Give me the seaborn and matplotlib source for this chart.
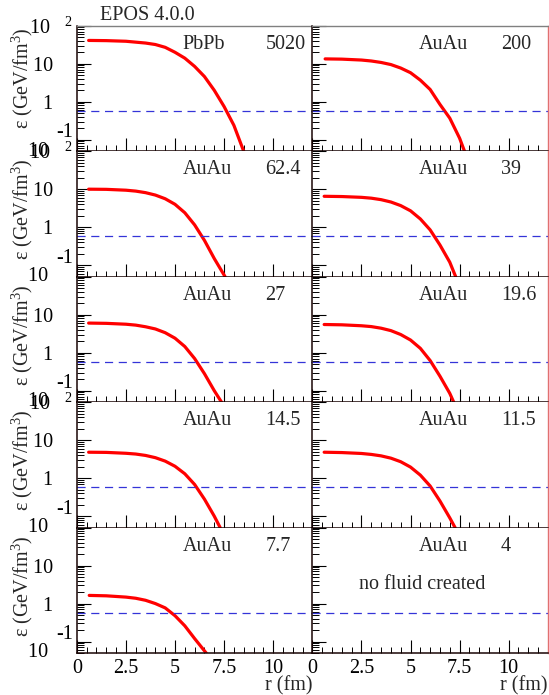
import numpy as np
import pandas as pd
import matplotlib
matplotlib.use("Agg")
import matplotlib.pyplot as plt
from matplotlib.ticker import (FixedLocator, FixedFormatter, MultipleLocator,
                               NullFormatter, LogLocator)
import seaborn as sns

# Panel labels (collision system and beam energy in GeV)
systems = ["PbPb", "AuAu", "AuAu", "AuAu", "AuAu",
           "AuAu", "AuAu", "AuAu", "AuAu", "AuAu"]
energies = ["5020", "200", "62.4", "39", "27",
            "19.6", "14.5", "11.5", "7.7", "4"]

# Radial energy-density profiles, r in fm, eps in GeV/fm^3
r_5020 = [0.6, 1.5, 2.5, 3.5, 4.0, 4.5, 5.0, 5.5, 6.0, 6.5, 7.0, 7.5, 8.0, 8.5]
eps_5020 = [41, 40.5, 39, 35, 32, 27, 20, 14, 8.5, 4.6, 2.0, 0.75, 0.24, 0.05]

r_200 = [0.65, 1.5, 2.5, 3.0, 3.5, 4.0, 4.5, 5.0, 5.5, 6.0, 6.5, 7.0, 7.5, 7.75]
eps_200 = [13.4, 13.2, 12.5, 11.8, 10.8, 9.5, 7.7, 5.8, 3.7, 2.1, 0.85, 0.37,
           0.11, 0.05]

r_624 = [0.6, 1.5, 2.5, 3.0, 3.5, 4.0, 4.5, 5.0, 5.5, 6.0, 6.5, 7.0, 7.55]
eps_624 = [10, 9.9, 9.4, 8.9, 8.1, 7.0, 5.6, 4.0, 2.4, 1.15, 0.45, 0.15, 0.05]

r_39 = [0.6, 1.5, 2.5, 3.0, 3.5, 4.0, 4.5, 5.0, 5.5, 6.0, 6.5, 7.0, 7.3]
eps_39 = [6.5, 6.4, 6.1, 5.8, 5.3, 4.6, 3.7, 2.7, 1.65, 0.85, 0.34, 0.12, 0.05]

r_27 = [0.6, 1.5, 2.5, 3.0, 3.5, 4.0, 4.5, 5.0, 5.5, 6.0, 6.5, 7.0, 7.37]
eps_27 = [6.0, 5.9, 5.6, 5.3, 4.8, 4.2, 3.35, 2.4, 1.45, 0.7, 0.28, 0.1, 0.05]

r_196 = [0.6, 1.5, 2.5, 3.0, 3.5, 4.0, 4.5, 5.0, 5.5, 6.0, 6.5, 7.0, 7.2]
eps_196 = [5.5, 5.4, 5.1, 4.85, 4.4, 3.8, 3.0, 2.15, 1.3, 0.62, 0.24, 0.085,
           0.05]

r_145 = [0.6, 1.5, 2.5, 3.0, 3.5, 4.0, 4.5, 5.0, 5.5, 6.0, 6.5, 7.0, 7.3]
eps_145 = [4.8, 4.75, 4.5, 4.3, 3.95, 3.45, 2.8, 2.05, 1.3, 0.68, 0.28, 0.1,
           0.05]

r_115 = [0.6, 1.5, 2.5, 3.0, 3.5, 4.0, 4.5, 5.0, 5.5, 6.0, 6.5, 7.0, 7.27]
eps_115 = [4.8, 4.7, 4.45, 4.2, 3.85, 3.35, 2.7, 1.95, 1.2, 0.62, 0.25, 0.09,
           0.05]

r_77 = [0.63, 1.5, 2.5, 3.0, 3.5, 4.0, 4.5, 5.0, 5.5, 6.0, 6.59]
eps_77 = [1.64, 1.6, 1.48, 1.38, 1.22, 1.0, 0.77, 0.48, 0.26, 0.12, 0.05]

r_4 = []
eps_4 = []

profiles = [(r_5020, eps_5020), (r_200, eps_200), (r_624, eps_624),
            (r_39, eps_39), (r_27, eps_27), (r_196, eps_196),
            (r_145, eps_145), (r_115, eps_115), (r_77, eps_77),
            (r_4, eps_4)]

eps_freeze = 0.57
title = "EPOS 4.0.0"
y_ticks = [0.1, 1, 10, 100]
x_ticks = [0, 2.5, 5, 7.5, 10]
x_ticklabels = ["0", "2.5", "5", "7.5", "10"]

sns.set_theme(style="ticks")
serif = "Liberation Serif"
fs = 14.5
plt.rcParams["font.family"] = [serif, "DejaVu Serif"]
plt.rcParams["mathtext.fontset"] = "custom"
plt.rcParams["mathtext.rm"] = serif
plt.rcParams["mathtext.it"] = serif + ":italic"
plt.rcParams["font.size"] = fs

fig, axes = plt.subplots(5, 2, figsize=(5.49, 6.95), dpi=100)
fig.subplots_adjust(left=0.140, right=0.998, top=0.963, bottom=0.0604,
                    wspace=0, hspace=0)

frame_col = "#1a0505"
for i, ax in enumerate(axes.flat):
    row, col = divmod(i, 2)
    r, eps = profiles[i]
    if len(r):
        df = pd.DataFrame({"r": r, "eps": eps})
        sns.lineplot(data=df, x="r", y="eps", ax=ax, color="#ff0000",
                     lw=2.3, sort=False)
    ax.axhline(eps_freeze, color="#3434d8", lw=0.9,
               linestyle=(0, (6.5, 4.5)))
    ax.set_yscale("log")
    ax.set_xlim(0, 12)
    ax.set_ylim(0.05, 100)
    ax.set_xlabel("")
    ax.set_ylabel("")

    lab_tr = ax.get_xaxis_transform()
    ax.text(5.4, 0.853, systems[i], transform=lab_tr,
            ha="left", va="center", fontsize=fs)
    ax.text(9.6, 0.853, energies[i], transform=lab_tr,
            ha="left", va="center", fontsize=fs)
    if energies[i] == "4":
        ax.text(5.6, 3.2, "no fluid created", ha="center", va="center",
                fontsize=fs)

    # ticks drawn inward
    ax.tick_params(axis="both", which="both", direction="in",
                   top=False, right=False, colors="black", labelsize=fs)
    ax.tick_params(axis="y", which="major", length=10, width=0.8)
    ax.tick_params(axis="y", which="minor", length=5, width=0.7)
    ax.tick_params(axis="x", which="major", length=9.5, width=0.8, pad=4)
    ax.tick_params(axis="x", which="minor", length=4.5, width=0.7)
    ax.xaxis.set_major_locator(FixedLocator(x_ticks))
    ax.xaxis.set_major_formatter(FixedFormatter(x_ticklabels))
    ax.xaxis.set_minor_locator(MultipleLocator(0.5))
    ax.yaxis.set_major_locator(FixedLocator(y_ticks))
    ax.yaxis.set_minor_locator(LogLocator(base=10, subs=np.arange(2, 10),
                                          numticks=20))
    ax.yaxis.set_minor_formatter(NullFormatter())

    for side in ("left", "bottom"):
        ax.spines[side].set_color(frame_col)
        ax.spines[side].set_linewidth(1.1)
    ax.spines["top"].set_color("#808080")
    ax.spines["top"].set_linewidth(1.0)
    ax.spines["top"].set_visible(row == 0)
    ax.spines["right"].set_color("#e07070")
    ax.spines["right"].set_linewidth(1.0)
    ax.spines["right"].set_visible(col == 1)

    if col == 0:
        top_lab = "10   $^{2}$" if row in (0, 1, 3) else ""
        ax.yaxis.set_major_formatter(FixedFormatter(
            ["-1\n10     ", "1    ", "10    ", top_lab]))
        for lab in ax.get_yticklabels():
            lab.set_multialignment("right")
            lab.set_linespacing(0.95)
        ax.tick_params(axis="y", which="major", pad=3, labelleft=True)
        ax.set_ylabel("ε (GeV/fm$^{3}$)", loc="top", fontsize=fs)
        ax.yaxis.set_label_coords(-0.178, 0.985 if row == 0 else 0.94)
    else:
        ax.yaxis.set_major_formatter(NullFormatter())
        ax.tick_params(axis="y", which="both", labelleft=False)

    if row == 4:
        ax.set_xlabel("r (fm)", loc="right", fontsize=fs, labelpad=-1)
        ax.tick_params(axis="x", labelbottom=True)
    else:
        ax.tick_params(axis="x", labelbottom=False)

fig.text(100 / 549, 1 - 15 / 695, title, ha="left", va="center",
         fontsize=fs)

fig.savefig("out.png", dpi=100)
